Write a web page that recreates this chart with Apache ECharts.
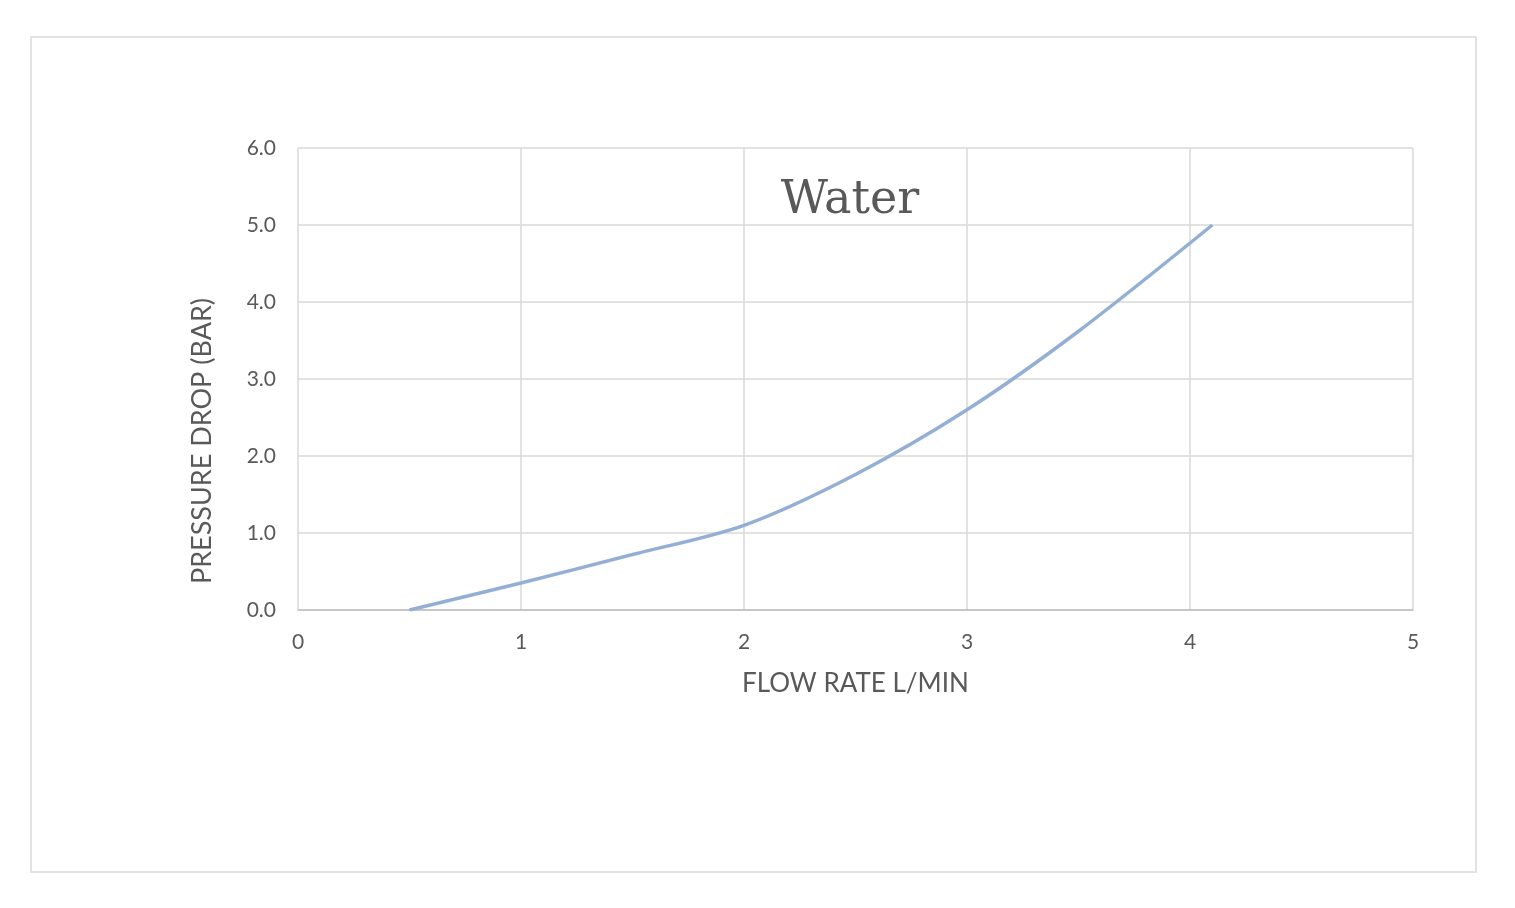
<!DOCTYPE html>
<html>
<head>
<meta charset="utf-8">
<script src="https://cdn.jsdelivr.net/npm/echarts@6/dist/echarts.min.js"></script>
<style>
  html, body { margin: 0; padding: 0; background: #fff; }
  #chart { width: 1515px; height: 908px; }
</style>
</head>
<body>
<div id="chart"></div>
<script>
// flow rate (L/min) and pressure drop (bar)
const flowRate = [0.5, 1.0, 1.5, 2.0, 2.5, 3.0, 3.5, 4.1];
const pressureDrop = [0.0, 0.35, 0.72, 1.1, 1.76, 2.6, 3.62, 5.0];

const xTicks = [0, 1, 2, 3, 4, 5];
const yTicks = [0, 1, 2, 3, 4, 5, 6];

var chartDom = document.getElementById('chart');
var myChart = echarts.init(chartDom);
var labelFont = 'Lato, "Open Sans", sans-serif';

var option = {
  animation: false,
  backgroundColor: '#fff',
  title: {
    text: 'Water',
    left: 845,
    top: 173,
    textAlign: 'center',
    textStyle: {
      fontFamily: '"DejaVu Serif", "Liberation Serif", serif',
      fontWeight: 'normal',
      fontSize: 46,
      color: '#595959'
    }
  },
  graphic: [{
    type: 'rect',
    shape: { x: 31, y: 37, width: 1445, height: 835 },
    style: { fill: 'none', stroke: '#d9d9d9', lineWidth: 1.5 },
    silent: true
  }],
  grid: { left: 298, top: 148, right: 102, bottom: 298 },
  xAxis: {
    type: 'value',
    min: xTicks[0],
    max: xTicks[xTicks.length - 1],
    interval: 1,
    name: 'FLOW RATE L/MIN',
    nameLocation: 'middle',
    nameGap: 61,
    nameTextStyle: { fontFamily: labelFont, fontSize: 26, color: '#595959' },
    axisLine: { show: true, lineStyle: { color: '#bfbfbf', width: 1.5 } },
    axisTick: { show: false },
    axisLabel: { margin: 22, fontFamily: labelFont, fontSize: 21, color: '#595959' },
    splitLine: { show: true, lineStyle: { color: '#d9d9d9', width: 1.5 } }
  },
  yAxis: {
    type: 'value',
    min: yTicks[0],
    max: yTicks[yTicks.length - 1],
    interval: 1,
    name: 'PRESSURE DROP (BAR)',
    nameLocation: 'middle',
    nameGap: 82,
    nameTextStyle: {
      fontFamily: labelFont,
      fontSize: 27,
      color: '#595959',
      padding: [0, 124, 0, 0]
    },
    axisLine: { show: false },
    axisTick: { show: false },
    axisLabel: {
      margin: 22,
      fontFamily: labelFont,
      fontSize: 21,
      color: '#595959',
      formatter: function (v) { return v.toFixed(1); }
    },
    splitLine: { show: true, lineStyle: { color: '#d9d9d9', width: 1.5 } }
  },
  series: [{
    type: 'line',
    data: flowRate.map(function (x, i) { return [x, pressureDrop[i]]; }),
    smooth: 0.3,
    showSymbol: false,
    lineStyle: { color: '#94afd6', width: 3.5 }
  }]
};

option && myChart.setOption(option);
</script>
</body>
</html>
